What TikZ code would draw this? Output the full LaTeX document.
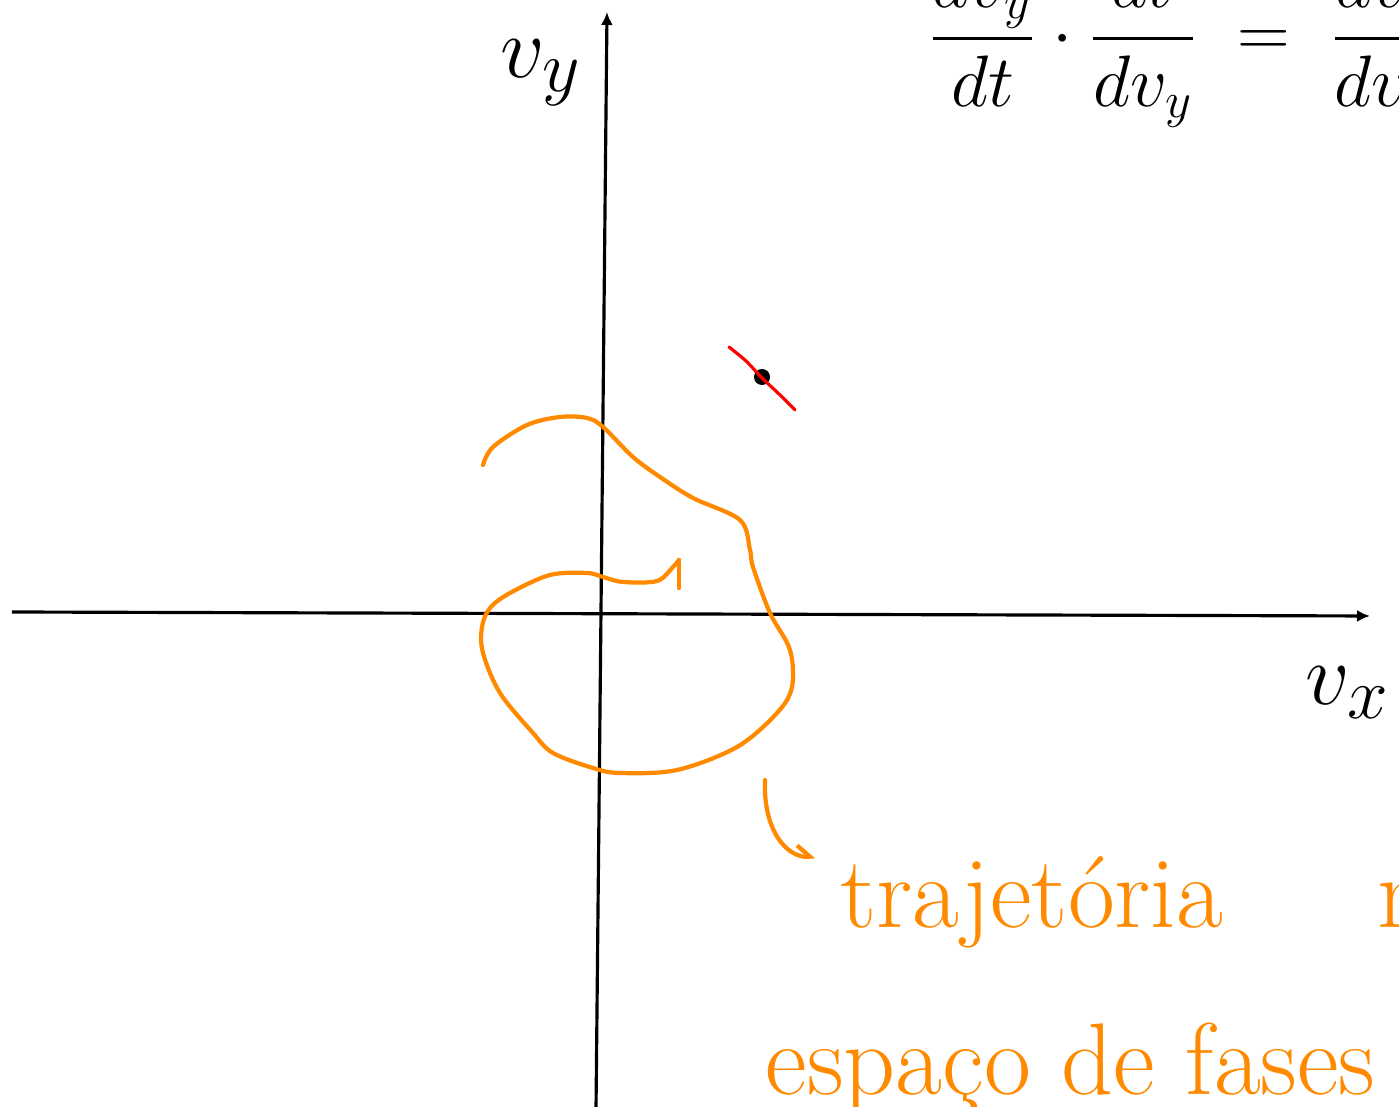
\documentclass[tikz,border=0pt]{standalone}
\usepackage{amsmath}
\usetikzlibrary{arrows.meta, calc}
\definecolor{trajcolor}{HTML}{FF8A00}
\definecolor{markcolor}{HTML}{FF0000}

\begin{document}
\begin{tikzpicture}[x=0.01cm, y=-0.01cm,
    axis/.style={line width=0.9pt, -{Latex[length=1.3mm, width=1.2mm]}},
    curve/.style={draw=trajcolor, line width=1.2pt, line cap=round, line join=round},
    hand/.style={inner sep=0pt, anchor=base west, font=\fontsize{28}{30}\selectfont},
    note/.style={hand, text=trajcolor, font=\fontsize{29}{31}\selectfont},
    hookarrow/.style={curve, -{Straight Barb[left, length=1.2mm]}},
    point/.style={circle, fill=black, inner sep=0pt, minimum size=1.6mm}
]
\useasboundingbox (0,0) rectangle (1399,1107);
\clip (0,0) rectangle (1399,1107);

% axes
\coordinate (xa) at (12,612);
\coordinate (xb) at (1370,616);
\coordinate (ya) at (596,1110);
\coordinate (yb) at (607,12);
\draw[axis] (xa) -- (xb);
\draw[axis] (ya) -- (yb);

\node[hand] (vy) at (500,78) {$v_y$};
\node[hand] (vx) at (1305,705) {$v_x$};

\node[hand, anchor=west, font=\fontsize{20}{22}\selectfont] (eq) at (928,42)
    {$\displaystyle \frac{dv_y}{dt}\cdot\frac{dt}{dv_y} \;=\; \frac{dv_y}{dv_x}$};

% state point and its tangent
\node[point] (pt) at (762,377) {};
\draw[markcolor, line width=0.9pt, line cap=round]
    plot[smooth] coordinates {(729,347) (746,361) (762,378) (779,394) (795,410)};

% trajectory
\draw[curve] plot[smooth, tension=0.55] coordinates {
    (483,465) (493,447) (527,425) (560,417) (587,418) (603,427) (633,457)
    (660,477) (693,498) (740,520) (750,550) (753,567) (770,613) (790,650)
    (792,687) (777,713) (737,747) (677,770) (620,773) (593,768) (553,753)
    (533,733) (500,693) (483,653) (482,627) (490,608) (510,593) (550,575)
    (587,573) (603,577) (623,582) (657,581) (673,567) (679,560)};
\draw[curve] (679,560) -- (679,588);

\node[note] (traj1) at (840,928) {trajetória\hspace{44pt}no};
\node[note] (traj2) at (765,1095) {espaço de fases};

\coordinate (hook) at (765,780);
\draw[hookarrow] (hook) .. controls (763,835) and (790,858) .. ([xshift=-2.5mm]traj1.north west);
\end{tikzpicture}
\end{document}
